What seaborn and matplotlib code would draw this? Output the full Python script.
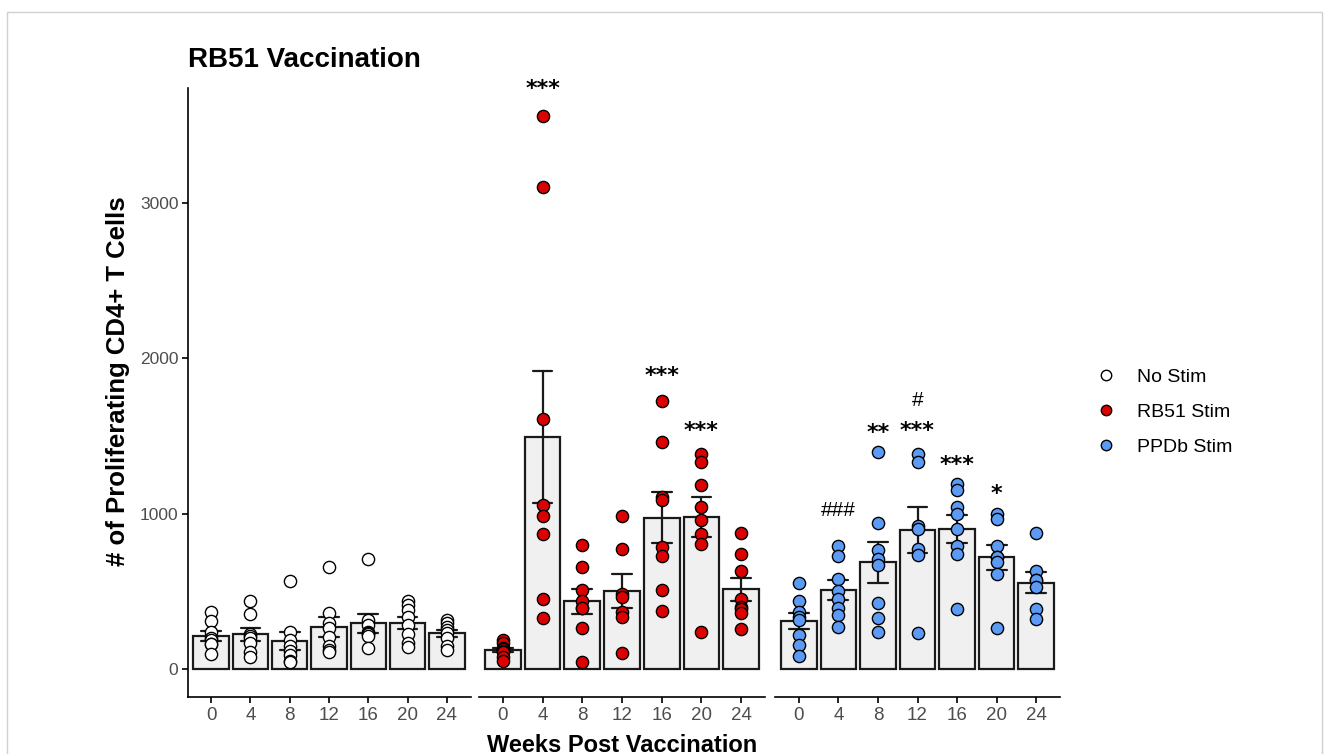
import pandas as pd
import seaborn as sns
import matplotlib.pyplot as plt
from matplotlib.lines import Line2D
from matplotlib.patches import Rectangle

# weeks post vaccination and the three stimulation groups
weeks = [0, 4, 8, 12, 16, 20, 24]
groups = ["No Stim", "RB51 Stim", "PPDb Stim"]

# individual animals, one list per week
no_stim = [
    [370, 310, 240, 200, 190, 160, 160, 96],
    [440, 353, 224, 215, 199, 167, 113, 81],
    [570, 240, 190, 150, 115, 90, 55, 46],
    [658, 365, 300, 267, 205, 152, 124, 113],
    [707, 316, 288, 240, 231, 230, 213, 135],
    [438, 412, 380, 338, 285, 230, 170, 145],
    [315, 295, 275, 255, 235, 200, 150, 123],
]
rb51_stim = [
    [190, 170, 140, 130, 120, 110, 80, 55],
    [3560, 3100, 1609, 1058, 983, 867, 451, 331],
    [801, 656, 508, 440, 395, 394, 263, 47],
    [987, 776, 484, 466, 370, 338, 107],
    [1726, 1459, 1111, 1090, 786, 729, 513, 376],
    [1385, 1335, 1188, 1043, 962, 872, 808, 241],
    [878, 739, 633, 455, 402, 389, 365, 259],
]
ppdb_stim = [
    [556, 438, 370, 338, 320, 220, 156, 88],
    [790, 726, 583, 502, 455, 395, 348, 274],
    [1400, 942, 769, 712, 669, 429, 333, 241],
    [1385, 1335, 921, 900, 776, 733, 231],
    [1192, 1154, 1043, 1000, 900, 790, 744, 391],
    [1000, 968, 790, 725, 720, 690, 615, 267],
    [876, 630, 575, 573, 530, 385, 321],
]

# significance marks (week, label)
rb51_marks = [(4, "***"), (16, "***"), (20, "***")]
ppdb_marks = [(4, "###"), (8, "**"), (12, "***"), (12, "#"), (16, "***"), (20, "*")]

rows = []
for g, vals in zip(groups, [no_stim, rb51_stim, ppdb_stim]):
    for w, animals in zip(weeks, vals):
        for v in animals:
            rows.append({"group": g, "week": w, "value": v})
df = pd.DataFrame(rows)

sns.set_theme(style="ticks")
plt.rcParams["font.family"] = ["Liberation Sans", "DejaVu Sans"]
plt.rcParams["text.color"] = "black"

colors = {"No Stim": "white", "RB51 Stim": "#dd0000", "PPDb Stim": "#5b9bf5"}
mark_y = {"No Stim": [], "RB51 Stim": [3731, 1885, 1532],
          "PPDb Stim": [1019, 1519, 1532, 1731, 1314, 1128]}
marks = {"No Stim": [], "RB51 Stim": rb51_marks, "PPDb Stim": ppdb_marks}

W, H = 1329, 754
fig = plt.figure(figsize=(W / 100, H / 100), dpi=100)
panels = [(187.5, 470.5), (479, 765), (775, 1060)]
top, bottom = 88, 697

for i, (g, (x0, x1)) in enumerate(zip(groups, panels)):
    ax = fig.add_axes([x0 / W, 1 - bottom / H, (x1 - x0) / W, (bottom - top) / H])
    sub = df[df.group == g]
    sns.barplot(data=sub, x="week", y="value", order=weeks, errorbar="se",
                capsize=0.5, color="#f0f0f0", saturation=1, edgecolor="#1a1a1a",
                linewidth=1.6, width=0.9,
                err_kws={"color": "#1a1a1a", "linewidth": 1.6}, ax=ax)
    sns.stripplot(data=sub, x="week", y="value", order=weeks, jitter=False,
                  color=colors[g], edgecolor="black", linewidth=1, size=8.8,
                  zorder=3, ax=ax)
    for (w, lab), y in zip(marks[g], mark_y[g]):
        if "*" in lab:
            ax.text(weeks.index(w), y, lab, ha="center", va="center",
                    fontsize=16, family="DejaVu Sans", fontweight="bold",
                    color="black")
        else:
            ax.text(weeks.index(w), y, lab, ha="center", va="center",
                    fontsize=15, color="black")
    ax.set_xlim(-0.6, 6.6)
    ax.set_ylim(-178, 3738)
    ax.set_xlabel("")
    ax.set_ylabel("")
    sns.despine(ax=ax)
    for s in ["left", "bottom"]:
        ax.spines[s].set_linewidth(1.2)
        ax.spines[s].set_color("black")
    ax.tick_params(axis="x", labelsize=13.5, labelcolor="#4d4d4d",
                   color="black", width=1.2, length=4)
    ax.tick_params(axis="y", labelsize=12.5, labelcolor="#4d4d4d",
                   color="black", width=1.2, length=4, pad=2.5)
    if i == 0:
        ax.set_yticks([0, 1000, 2000, 3000])
    else:
        ax.spines["left"].set_visible(False)
        ax.set_yticks([])

fig.text(188 / W, 1 - 60 / H, "RB51 Vaccination", fontsize=20,
         fontweight="bold", ha="left", va="center")
fig.text(118 / W, 1 - 381 / H, "# of Proliferating CD4+ T Cells", fontsize=18.5,
         fontweight="bold", rotation=90, ha="center", va="center")
fig.text(622 / W, 1 - 745 / H, "Weeks Post Vaccination", fontsize=17,
         fontweight="bold", ha="center", va="center")

handles = [Line2D([], [], marker="o", ls="", markerfacecolor=colors[g],
                  markeredgecolor="black", markersize=7.5) for g in groups]
fig.legend(handles, groups, loc="center left", bbox_to_anchor=(1079 / W, 1 - 412 / H),
           frameon=False, fontsize=14, handlelength=1, handletextpad=1.1,
           labelspacing=0.9)

fig.add_artist(Rectangle((7 / W, -0.1), (1322 - 7) / W, 1 - 12 / H + 0.1,
                         transform=fig.transFigure, fill=False,
                         edgecolor="#d0d0d0", linewidth=1))

fig.savefig("out.png", dpi=100)
